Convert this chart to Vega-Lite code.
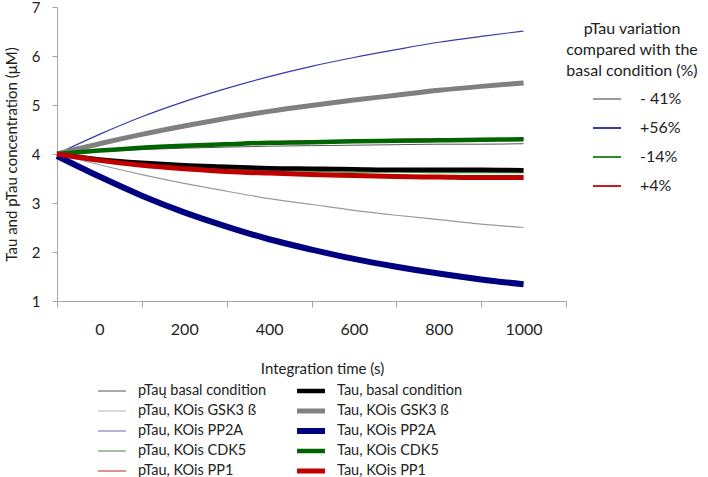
{
  "$schema": "https://vega.github.io/schema/vega-lite/v6.json",
  "width": 509,
  "height": 294,
  "autosize": "none",
  "padding": {"left": 57, "top": 7, "right": 142, "bottom": 176},
  "config": {
    "font": "Lato",
    "view": {"stroke": null},
    "axis": {"domainColor": "#a6a6a6", "tickColor": "#a6a6a6", "labelColor": "#222", "titleColor": "#222", "labelFont": "Lato", "titleFont": "Lato", "titleFontWeight": "normal", "grid": false},
    "legend": {"labelFont": "Lato", "titleFont": "Lato", "labelColor": "#222", "titleColor": "#222", "titleLineHeight": 21}
  },
  "datasets": {
    "curves": [
      {"t": -100, "pTaų  basal condition": 4.0, "pTau, KOis GSK3 ß": 4.0, "pTau, KOis PP2A": 4.0, "pTau, KOis CDK5": 4.0, "pTau, KOis PP1": 4.0, "Tau,  basal condition": 4.0, "Tau, KOis GSK3 ß": 4.0, "Tau, KOis PP2A": 3.96, "Tau, KOis CDK5": 4.0, "Tau, KOis PP1": 4.0},
      {"t": 0, "pTaų  basal condition": 4.05, "pTau, KOis GSK3 ß": 3.78, "pTau, KOis PP2A": 4.40, "pTau, KOis CDK5": 3.87, "pTau, KOis PP1": 4.08, "Tau,  basal condition": 3.89, "Tau, KOis GSK3 ß": 4.21, "Tau, KOis PP2A": 3.54, "Tau, KOis CDK5": 4.07, "Tau, KOis PP1": 3.87},
      {"t": 100, "pTaų  basal condition": 4.09, "pTau, KOis GSK3 ß": 3.58, "pTau, KOis PP2A": 4.76, "pTau, KOis CDK5": 3.79, "pTau, KOis PP1": 4.14, "Tau,  basal condition": 3.82, "Tau, KOis GSK3 ß": 4.40, "Tau, KOis PP2A": 3.15, "Tau, KOis CDK5": 4.13, "Tau, KOis PP1": 3.77},
      {"t": 200, "pTaų  basal condition": 4.12, "pTau, KOis GSK3 ß": 3.40, "pTau, KOis PP2A": 5.07, "pTau, KOis CDK5": 3.73, "pTau, KOis PP1": 4.18, "Tau,  basal condition": 3.77, "Tau, KOis GSK3 ß": 4.57, "Tau, KOis PP2A": 2.81, "Tau, KOis CDK5": 4.17, "Tau, KOis PP1": 3.70},
      {"t": 300, "pTaų  basal condition": 4.14, "pTau, KOis GSK3 ß": 3.24, "pTau, KOis PP2A": 5.34, "pTau, KOis CDK5": 3.69, "pTau, KOis PP1": 4.22, "Tau,  basal condition": 3.74, "Tau, KOis GSK3 ß": 4.73, "Tau, KOis PP2A": 2.52, "Tau, KOis CDK5": 4.20, "Tau, KOis PP1": 3.645},
      {"t": 400, "pTaų  basal condition": 4.16, "pTau, KOis GSK3 ß": 3.09, "pTau, KOis PP2A": 5.58, "pTau, KOis CDK5": 3.66, "pTau, KOis PP1": 4.25, "Tau,  basal condition": 3.71, "Tau, KOis GSK3 ß": 4.87, "Tau, KOis PP2A": 2.26, "Tau, KOis CDK5": 4.23, "Tau, KOis PP1": 3.61},
      {"t": 500, "pTaų  basal condition": 4.17, "pTau, KOis GSK3 ß": 2.97, "pTau, KOis PP2A": 5.79, "pTau, KOis CDK5": 3.65, "pTau, KOis PP1": 4.27, "Tau,  basal condition": 3.70, "Tau, KOis GSK3 ß": 4.99, "Tau, KOis PP2A": 2.05, "Tau, KOis CDK5": 4.24, "Tau, KOis PP1": 3.58},
      {"t": 600, "pTaų  basal condition": 4.18, "pTau, KOis GSK3 ß": 2.85, "pTau, KOis PP2A": 5.97, "pTau, KOis CDK5": 3.63, "pTau, KOis PP1": 4.28, "Tau,  basal condition": 3.69, "Tau, KOis GSK3 ß": 5.10, "Tau, KOis PP2A": 1.86, "Tau, KOis CDK5": 4.26, "Tau, KOis PP1": 3.56},
      {"t": 700, "pTaų  basal condition": 4.19, "pTau, KOis GSK3 ß": 2.75, "pTau, KOis PP2A": 6.13, "pTau, KOis CDK5": 3.63, "pTau, KOis PP1": 4.30, "Tau,  basal condition": 3.68, "Tau, KOis GSK3 ß": 5.20, "Tau, KOis PP2A": 1.70, "Tau, KOis CDK5": 4.27, "Tau, KOis PP1": 3.54},
      {"t": 800, "pTaų  basal condition": 4.20, "pTau, KOis GSK3 ß": 2.66, "pTau, KOis PP2A": 6.28, "pTau, KOis CDK5": 3.62, "pTau, KOis PP1": 4.31, "Tau,  basal condition": 3.68, "Tau, KOis GSK3 ß": 5.30, "Tau, KOis PP2A": 1.56, "Tau, KOis CDK5": 4.28, "Tau, KOis PP1": 3.53},
      {"t": 900, "pTaų  basal condition": 4.20, "pTau, KOis GSK3 ß": 2.57, "pTau, KOis PP2A": 6.40, "pTau, KOis CDK5": 3.62, "pTau, KOis PP1": 4.31, "Tau,  basal condition": 3.68, "Tau, KOis GSK3 ß": 5.38, "Tau, KOis PP2A": 1.44, "Tau, KOis CDK5": 4.29, "Tau, KOis PP1": 3.52},
      {"t": 1000, "pTaų  basal condition": 4.21, "pTau, KOis GSK3 ß": 2.50, "pTau, KOis PP2A": 6.51, "pTau, KOis CDK5": 3.62, "pTau, KOis PP1": 4.32, "Tau,  basal condition": 3.67, "Tau, KOis GSK3 ß": 5.45, "Tau, KOis PP2A": 1.34, "Tau, KOis CDK5": 4.30, "Tau, KOis PP1": 3.52}
    ],
    "variation": [
      {"series": "pTau, KOis GSK3 ß", "variation": "- 41%"},
      {"series": "pTau, KOis PP2A", "variation": "+56%"},
      {"series": "pTau, KOis CDK5", "variation": "-14%"},
      {"series": "pTau, KOis PP1", "variation": "+4%"}
    ]
  },
  "layer": [
    {
      "data": {"name": "curves"},
      "transform": [
        {"fold": ["pTau, KOis GSK3 ß", "pTau, KOis PP2A", "pTau, KOis CDK5", "pTau, KOis PP1"], "as": ["series", "v"]},
        {"lookup": "series", "from": {"data": {"name": "variation"}, "key": "series", "fields": ["variation"]}}
      ],
      "mark": {"type": "line", "strokeWidth": 1.2, "interpolate": "monotone"},
      "encoding": {
        "x": {"field": "t", "type": "quantitative", "scale": {"domain": [-100, 1100], "nice": false, "zero": false},
              "axis": {"orient": "bottom", "values": [-100, 100, 300, 500, 700, 900, 1100], "labels": false, "tickSize": 6, "title": null}},
        "y": {"field": "v", "type": "quantitative", "scale": {"domain": [1, 7], "nice": false, "zero": false},
              "axis": {"values": [1, 2, 3, 4, 5, 6, 7], "tickSize": 5, "labelFontSize": 15, "labelPadding": 12, "title": "Tau and pTau concentration (μM)", "titleFontSize": 15, "titlePadding": 12}},
        "color": {"field": "variation", "type": "nominal",
                  "scale": {"domain": ["- 41%", "+56%", "-14%", "+4%"], "range": ["#9a9a9a", "#3a3aa8", "#2e8b2e", "#c81e1e"]},
                  "legend": {"orient": "none", "legendX": 509, "legendY": 14, "title": ["pTau variation", "compared with the", "basal condition (%)"],
                             "titleFontSize": 16, "titleFontWeight": "normal", "titleAlign": "center", "titleAnchor": "middle", "titleLineHeight": 21, "titlePadding": 5,
                             "symbolType": "stroke", "symbolSize": 784, "symbolStrokeWidth": 2, "symbolOffset": 10, "labelOffset": 18, "labelFontSize": 16, "rowPadding": 6, "padding": 0}},
        "detail": {"field": "series", "type": "nominal"},
        "order": {"field": "t", "type": "quantitative"}
      }
    },
    {
      "data": {"name": "curves"},
      "transform": [
        {"fold": ["pTaų  basal condition", "Tau,  basal condition", "Tau, KOis GSK3 ß", "Tau, KOis PP2A", "Tau, KOis CDK5", "Tau, KOis PP1"], "as": ["series", "v"]}
      ],
      "mark": {"type": "line", "interpolate": "monotone"},
      "encoding": {
        "x": {"field": "t", "type": "quantitative", "scale": {"domain": [-100, 1100], "nice": false, "zero": false},
              "axis": {"orient": "bottom", "values": [0, 200, 400, 600, 800, 1000], "format": "d", "ticks": false, "domain": false, "labelFontSize": 16, "labelPadding": 20, "title": "Integration time (s)", "titleFontSize": 15, "titlePadding": 24, "titleX": 265}},
        "y": {"field": "v", "type": "quantitative", "scale": {"domain": [1, 7], "nice": false, "zero": false},
              "axis": {"values": [1, 2, 3, 4, 5, 6, 7], "tickSize": 5, "labelFontSize": 15, "labelPadding": 12, "title": "Tau and pTau concentration (μM)", "titleFontSize": 15, "titlePadding": 12}},
        "color": {"field": "series", "type": "nominal",
                  "scale": {"domain": ["pTaų  basal condition", "pTau, KOis GSK3 ß", "pTau, KOis PP2A", "pTau, KOis CDK5", "pTau, KOis PP1", "Tau,  basal condition", "Tau, KOis GSK3 ß", "Tau, KOis PP2A", "Tau, KOis CDK5", "Tau, KOis PP1"],
                            "range": ["#555555", "#b5b5b5", "#6a6ab8", "#2e8b2e", "#c81e1e", "#000000", "#808080", "#000080", "#006400", "#c00000"]},
                  "legend": {"orient": "none", "legendX": 38, "legendY": 375, "columns": 2, "columnPadding": 24, "rowPadding": 2, "clipHeight": 18, "title": null,
                             "symbolType": "M-2.33,0H2.33", "symbolSize": 144, "symbolOffset": 8, "labelOffset": 17, "labelFontSize": 14.5, "padding": 0}},
        "strokeWidth": {"field": "series", "type": "nominal",
                        "scale": {"type": "ordinal", "domain": ["pTaų  basal condition", "pTau, KOis GSK3 ß", "pTau, KOis PP2A", "pTau, KOis CDK5", "pTau, KOis PP1", "Tau,  basal condition", "Tau, KOis GSK3 ß", "Tau, KOis PP2A", "Tau, KOis CDK5", "Tau, KOis PP1"],
                                  "range": [1, 1, 1, 1, 1, 4.5, 5, 6, 4.5, 5]},
                        "legend": {"orient": "none", "legendX": 38, "legendY": 375, "columns": 2, "columnPadding": 24, "rowPadding": 2, "clipHeight": 18, "title": null,
                             "symbolType": "M-2.33,0H2.33", "symbolSize": 144, "symbolOffset": 8, "labelOffset": 17, "labelFontSize": 14.5, "padding": 0}},
        "order": {"field": "t", "type": "quantitative"}
      }
    }
  ],
  "resolve": {"scale": {"color": "independent", "strokeWidth": "independent"}, "axis": {"x": "independent"}}
}
